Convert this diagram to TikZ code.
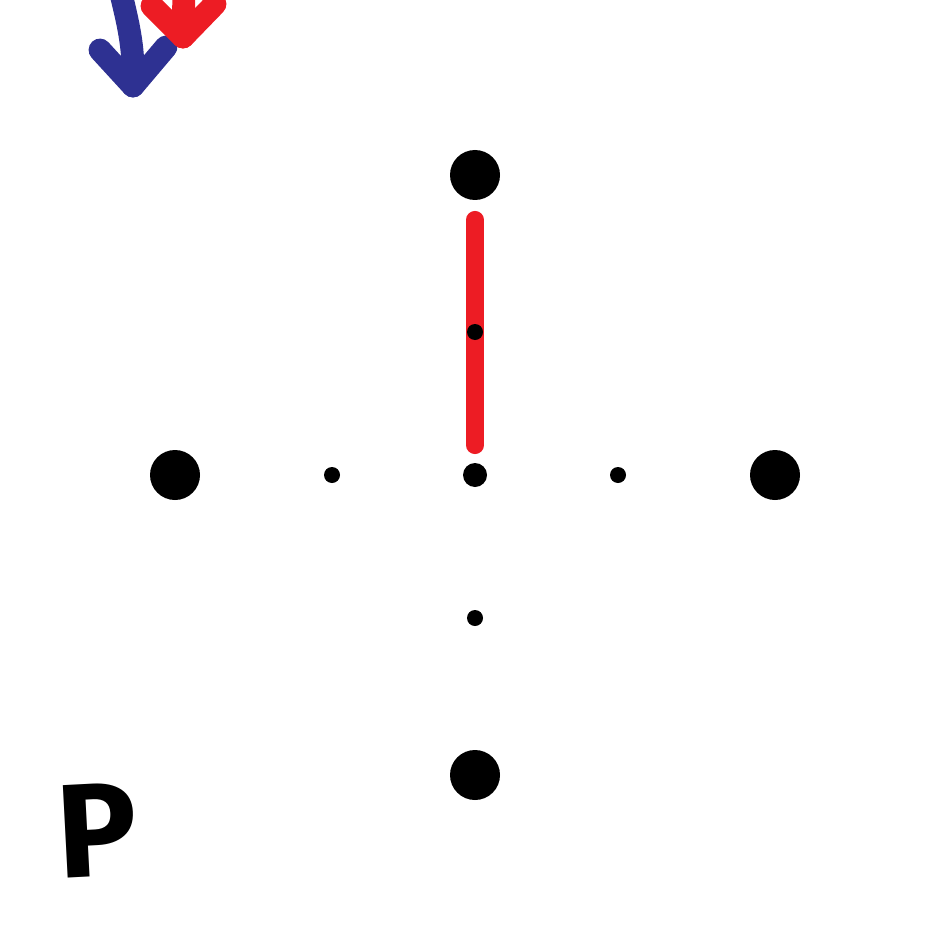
\documentclass[tikz,border=0pt]{standalone}
\usepackage{fontspec}
\setsansfont{Fira Sans}
\definecolor{arrblue}{HTML}{2E3192}
\definecolor{arrred}{HTML}{ED1C24}
\begin{document}
\begin{tikzpicture}[every node/.style={font=\small},
    bigdot/.style={circle, fill=black, inner sep=0pt, minimum size=0.5cm},
    smalldot/.style={circle, fill=black, inner sep=0pt, minimum size=0.16cm},
    pen/.style={line width=6.5pt, line cap=round, line join=round}]
    \useasboundingbox (0,0) rectangle (9.5,-9.5);
    % big dots at the four ends
    \foreach \k/\x/\y in {0/4.75/-1.75, 1/1.75/-4.75, 2/7.75/-4.75, 3/4.75/-7.75} {
        \node[bigdot] (n\k) at (\x,\y) {};
    }
    \node[circle, fill=black, inner sep=0pt, minimum size=0.24cm] (c) at (4.75,-4.75) {};
    \draw[pen, line width=5pt, arrred] (n0) edge[shorten <=0.19cm, shorten >=0.17cm] (c);
    % small dots in between
    \foreach \k/\x/\y in {0/4.75/-3.32, 1/3.32/-4.75, 2/6.18/-4.75, 3/4.75/-6.18} {
        \node[smalldot] (m\k) at (\x,\y) {};
    }
    % arrows in the corner
    \coordinate (btip) at (1.33,-0.86);
    \draw[pen, arrblue] (1.2,0.1) .. controls (1.3,-0.3) and (1.34,-0.5) .. (btip);
    \draw[pen, arrblue] (1.0,-0.5) -- (btip) -- (1.66,-0.47);
    \coordinate (rtip) at (1.83,-0.37);
    \draw[pen, arrred] (1.84,0.1) -- (rtip);
    \draw[pen, arrred] (1.52,-0.06) -- (rtip) -- (2.15,-0.04);
    \node[font=\sffamily\bfseries\fontsize{38}{40}\selectfont, inner sep=0pt, rotate=3] (p) at (0.97,-8.3) {P};
\end{tikzpicture}
\end{document}
